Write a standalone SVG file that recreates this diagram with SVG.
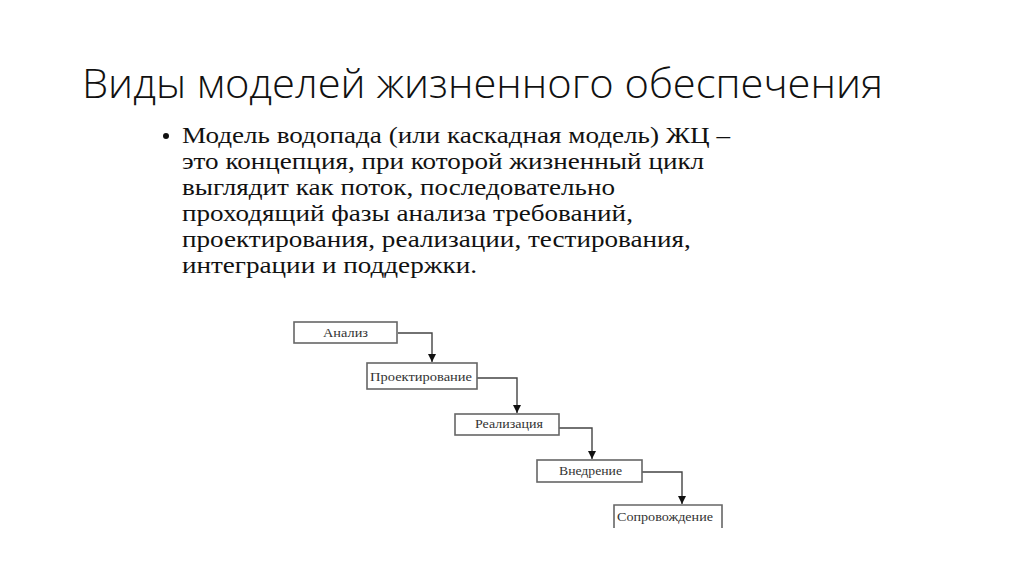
<svg xmlns="http://www.w3.org/2000/svg" width="1024" height="574" viewBox="0 0 1024 574">
<style>
.title{font-family:"Open Sans","Liberation Sans",sans-serif;font-weight:300;font-size:40px;fill:#111}
.body{font-family:"Liberation Serif","Times New Roman",serif;font-size:23px;fill:#111}
.box{fill:#fff;stroke:#666;stroke-width:1.6}
.lbl{font-family:"Liberation Serif","Times New Roman",serif;font-size:12px;fill:#333;text-anchor:middle}
.con{fill:none;stroke:#444;stroke-width:1.4}
</style>
<defs>
<marker id="ah" viewBox="0 0 10 10" refX="10" refY="5" markerWidth="8" markerHeight="8" markerUnits="userSpaceOnUse" orient="auto">
<path d="M0,0 L10,5 L0,10 Z" fill="#111"/>
</marker>
</defs>
<rect width="1024" height="574" fill="#fff"/>
<text class="title" x="82" y="98" textLength="801" lengthAdjust="spacingAndGlyphs">Виды моделей жизненного обеспечения</text>
<g id="bullet">
<circle cx="166" cy="136" r="3" fill="#111"/>
<g transform="scale(1.18,1)">
<text class="body" x="154.2" y="143">Модель водопада (или каскадная модель) ЖЦ –</text>
<text class="body" x="154.2" y="169">это концепция, при которой жизненный цикл</text>
<text class="body" x="154.2" y="195">выглядит как поток, последовательно</text>
<text class="body" x="154.2" y="221">проходящий фазы анализа требований,</text>
<text class="body" x="154.2" y="247">проектирования, реализации, тестирования,</text>
<text class="body" x="154.2" y="273">интеграции и поддержки.</text>
</g>
</g>
<g id="connectors">
<path class="con" d="M398,333 H432 V362" marker-end="url(#ah)"/>
<path class="con" d="M477,378 H517 V413" marker-end="url(#ah)"/>
<path class="con" d="M559,428 H592 V459" marker-end="url(#ah)"/>
<path class="con" d="M642,472 H682 V504" marker-end="url(#ah)"/>
</g>
<g id="n1"><rect class="box" x="294" y="322" width="103" height="21"/><text class="lbl" x="345.5" y="337" textLength="45" lengthAdjust="spacingAndGlyphs">Анализ</text></g>
<g id="n2"><rect class="box" x="367" y="363" width="110" height="26"/><text class="lbl" x="421" y="381" textLength="102" lengthAdjust="spacingAndGlyphs">Проектирование</text></g>
<g id="n3"><rect class="box" x="455" y="414" width="104" height="21"/><text class="lbl" x="509" y="428" textLength="68" lengthAdjust="spacingAndGlyphs">Реализация</text></g>
<g id="n4"><rect class="box" x="537" y="460" width="105" height="22"/><text class="lbl" x="590.5" y="475" textLength="63" lengthAdjust="spacingAndGlyphs">Внедрение</text></g>
<g id="n5"><path class="box" d="M614,528 V505 H722 V528"/><text class="lbl" x="665" y="521" textLength="96" lengthAdjust="spacingAndGlyphs">Сопровождение</text></g>
</svg>
